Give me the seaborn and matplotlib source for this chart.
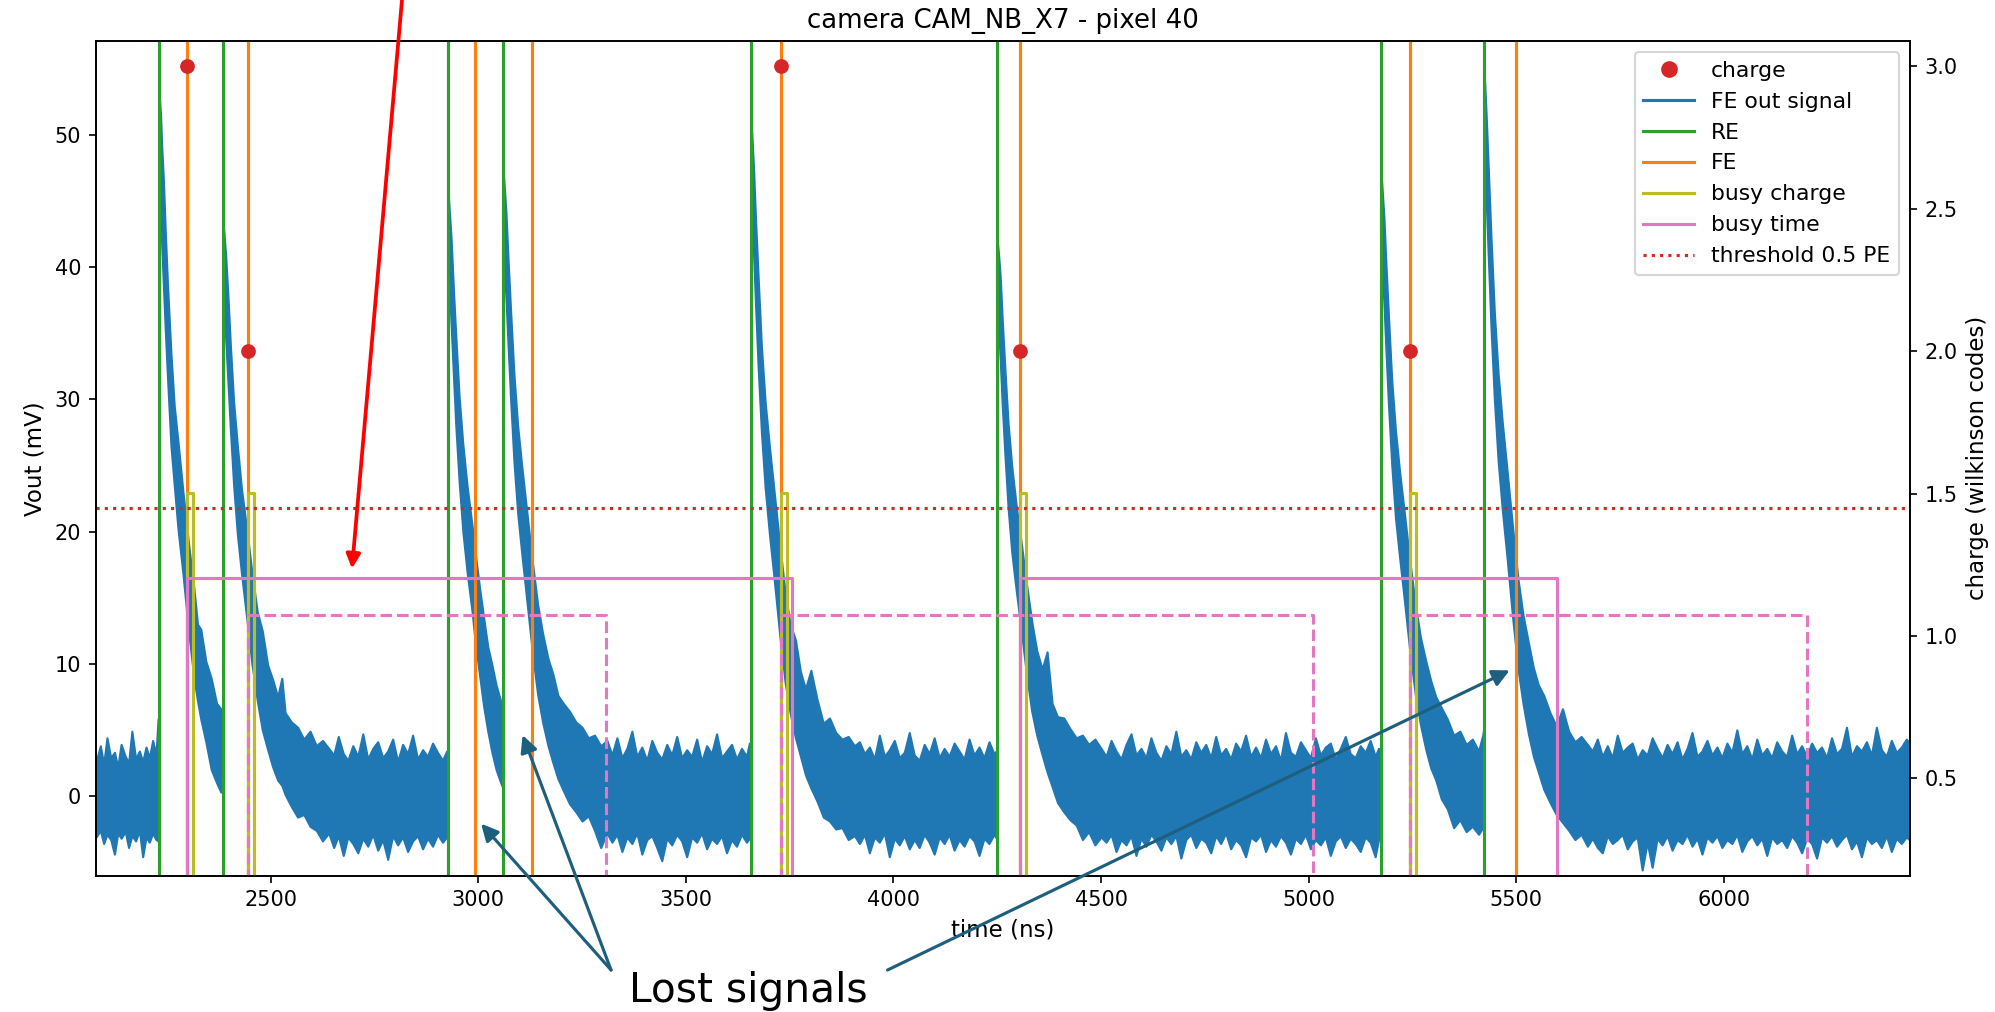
import matplotlib
matplotlib.use('Agg')
import matplotlib.pyplot as plt
from matplotlib.lines import Line2D
import seaborn as sns

# FE out signal, read as the upper / lower edge of the noisy trace (mV) at each time (ns)
sig_t = [
    # baseline before first pulse
    2080, 2090, 2098, 2106, 2115, 2124, 2132, 2140, 2150, 2158, 2166, 2175, 2184, 2192, 2200, 2208, 2216, 2224, 2229, 2232,
    # pulse 1
    2232, 2235, 2238, 2242, 2246, 2252, 2260, 2268, 2277, 2289, 2302, 2315, 2324, 2332, 2344, 2357, 2370, 2380, 2385,
    # pulse 2
    2385, 2388, 2392, 2397, 2403, 2411, 2420, 2430, 2442, 2455, 2468, 2480, 2493, 2505, 2517, 2527, 2535, 2550, 2565,
    2580, 2595, 2610, 2625,
    # baseline
    2640, 2652, 2663, 2675, 2686, 2698, 2710, 2722, 2734, 2746, 2758, 2770, 2782, 2794, 2806, 2818, 2830, 2842, 2854,
    2866, 2878, 2890, 2902, 2914, 2924, 2928,
    # pulse 3
    2928, 2931, 2935, 2940, 2946, 2954, 2963, 2973, 2985, 2993, 3003, 3013, 3023, 3033, 3043, 3053, 3058, 3060,
    # pulse 4
    3060, 3063, 3067, 3072, 3078, 3086, 3095, 3105, 3117, 3130, 3143, 3155, 3168, 3180, 3192, 3205, 3220, 3235, 3250,
    3265, 3280, 3295, 3310,
    # baseline
    3322, 3334, 3346, 3358, 3370, 3382, 3394, 3406, 3418, 3430, 3442, 3454, 3466, 3478, 3490, 3502, 3514, 3526, 3538,
    3550, 3562, 3574, 3586, 3598, 3610, 3622, 3634, 3646, 3653, 3656,
    # pulse 5
    3656, 3659, 3663, 3668, 3674, 3682, 3691, 3701, 3713, 3726, 3739, 3751, 3764, 3776, 3788, 3801, 3816, 3831, 3846,
    3861, 3876, 3891, 3906,
    # baseline
    3918, 3930, 3942, 3954, 3966, 3978, 3990, 4002, 4014, 4026, 4038, 4050, 4062, 4074, 4086, 4098, 4110, 4122, 4134,
    4146, 4158, 4170, 4182, 4194, 4206, 4218, 4230, 4242, 4250,
    # pulse 6
    4250, 4253, 4257, 4262, 4268, 4276, 4285, 4295, 4307, 4320, 4333, 4345, 4358, 4370, 4382, 4395, 4410, 4425, 4440,
    4455, 4470, 4485, 4500,
    # baseline
    4512, 4524, 4536, 4548, 4560, 4572, 4584, 4596, 4608, 4620, 4632, 4644, 4656, 4668, 4680, 4692, 4704, 4716, 4728,
    4740, 4752, 4764, 4776, 4788, 4800, 4812, 4824, 4836, 4848, 4860, 4872, 4884, 4896, 4908, 4920, 4932, 4944, 4956,
    4968, 4980, 4992, 5004, 5016, 5028, 5040, 5052, 5064, 5076, 5088, 5100, 5112, 5124, 5136, 5148, 5160, 5168, 5174,
    # pulse 7
    5174, 5177, 5181, 5186, 5192, 5200, 5209, 5219, 5231, 5244, 5257, 5269, 5282, 5294, 5306, 5319, 5334, 5349, 5364,
    5379, 5394, 5409, 5419, 5421,
    # pulse 8
    5421, 5424, 5428, 5433, 5439, 5447, 5456, 5466, 5478, 5491, 5504, 5516, 5529, 5541, 5553, 5566, 5581, 5596, 5611,
    5626, 5641, 5656, 5671,
    # baseline to the end
    5683, 5695, 5707, 5719, 5731, 5743, 5755, 5767, 5779, 5791, 5803, 5815, 5827, 5839, 5851, 5863, 5875, 5887, 5899,
    5911, 5923, 5935, 5947, 5959, 5971, 5983, 5995, 6007, 6019, 6031, 6043, 6055, 6067, 6079, 6091, 6103, 6115, 6127,
    6139, 6151, 6163, 6175, 6187, 6199, 6211, 6223, 6235, 6247, 6259, 6271, 6283, 6295, 6307, 6319, 6331, 6343, 6355,
    6367, 6379, 6391, 6403, 6415, 6427, 6439, 6450,
]
sig_hi = [
    2.6, 3.8, 2.4, 4.4, 2.9, 3.3, 2.2, 3.9, 3.0, 2.5, 4.9, 2.8, 3.4, 2.6, 3.7, 2.9, 4.2, 3.1, 5.8, 6.0,
    53.0, 51.5, 49.0, 46.5, 43.0, 38.5, 33.5, 29.5, 26.8, 23.0, 19.2, 15.8, 13.0, 12.6, 10.2, 8.9, 7.0, 6.6, 6.2,
    43.6, 42.5, 40.8, 38.0, 34.2, 29.8, 26.5, 23.2, 20.3, 16.9, 13.9, 12.5, 9.9, 8.8, 7.5, 8.9, 6.3, 5.6, 5.2,
    4.3, 4.9, 3.8, 4.2,
    3.6, 3.1, 4.5, 3.2, 2.7, 3.8, 3.0, 4.7, 2.8, 3.6, 4.1, 2.9, 3.4, 4.3, 2.6, 3.9, 3.2, 4.6, 2.8,
    3.5, 3.0, 4.0, 3.3, 2.7, 3.4, 3.0,
    45.4, 44.0, 42.0, 38.5, 34.8, 30.2, 26.6, 23.5, 20.5, 18.3, 15.8, 13.5, 11.3, 9.9, 8.4, 7.3, 6.9, 6.5,
    47.4, 46.0, 44.0, 40.5, 36.7, 31.9, 28.0, 24.9, 21.5, 17.8, 14.5, 12.3, 10.4, 9.2, 7.6, 7.0, 6.4, 5.6, 5.2,
    4.4, 4.6, 3.8, 4.2,
    3.1, 4.4, 2.9, 3.6, 4.9, 3.0, 3.7, 2.7, 4.2, 3.3, 2.8, 3.9, 3.1, 4.5, 2.9, 3.5, 3.0, 4.3, 2.6,
    3.8, 3.2, 4.7, 2.9, 3.4, 3.9, 2.8, 3.6, 3.0, 4.0, 3.3,
    51.6, 50.0, 47.5, 43.5, 39.3, 34.0, 29.8, 26.5, 22.9, 19.0, 15.4, 13.0, 11.8, 9.4, 8.1, 9.5, 7.3, 5.5, 5.9,
    4.8, 4.3, 4.5, 3.8,
    4.1, 3.2, 3.7, 2.8, 4.6, 3.0, 3.5, 4.2, 2.9, 3.3, 4.8, 3.1, 2.7, 3.9, 3.2, 4.4, 2.9, 3.6, 3.0,
    4.0, 3.4, 2.8, 4.3, 3.1, 3.7, 2.9, 4.1, 3.2, 3.5,
    42.0, 41.0, 39.3, 36.0, 32.5, 28.2, 24.9, 22.1, 19.3, 16.1, 13.2, 11.0, 9.6, 10.9, 7.0, 6.0, 5.9, 5.1, 4.4,
    4.6, 3.9, 4.3, 3.6,
    3.0, 4.2, 3.4, 2.8, 3.9, 4.7, 3.1, 3.6, 2.9, 4.4, 3.3, 2.7, 3.8, 3.2, 4.9, 3.0, 3.5, 2.8, 4.1,
    3.3, 3.9, 2.9, 4.5, 3.1, 3.6, 2.8, 4.0, 3.4, 4.6, 3.0, 3.7, 2.9, 4.3, 3.2, 3.8, 2.7, 4.8, 3.3,
    3.0, 4.1, 3.5, 2.9, 4.4, 3.1, 3.7, 4.0, 2.8, 3.6, 4.5, 3.2, 2.9, 3.8, 3.3, 4.2, 3.0, 3.6, 3.4,
    47.2, 45.8, 43.8, 40.2, 36.3, 31.4, 27.6, 24.5, 21.2, 17.6, 14.4, 12.0, 10.2, 8.7, 7.5, 6.7, 5.8, 4.6, 4.9,
    3.9, 4.3, 3.4, 4.6, 5.0,
    55.5, 53.8, 51.0, 47.0, 42.2, 36.6, 32.0, 28.3, 24.5, 20.3, 16.4, 13.7, 11.6, 9.7, 8.4, 7.6, 6.3, 5.3, 6.6,
    4.9, 4.1, 4.5, 3.9,
    3.4, 4.3, 3.0, 3.8, 2.9, 4.6, 3.3, 3.7, 4.0, 2.8, 3.5, 3.1, 4.4, 3.6, 2.9, 3.9, 3.2, 4.1, 2.8,
    3.6, 4.8, 3.0, 3.4, 4.2, 3.1, 3.7, 2.9, 4.0, 3.3, 5.0, 3.2, 3.8, 2.8, 4.3, 3.1, 3.6, 2.9, 4.1,
    3.4, 3.0, 4.6, 3.2, 3.8, 3.0, 4.0, 3.3, 3.7, 2.9, 4.4, 3.2, 3.6, 5.2, 3.0, 3.8, 3.4, 4.1, 3.1,
    5.2, 3.5, 3.0, 4.2, 3.3, 3.7, 4.3, 3.9,
]
sig_lo = [
    -3.1, -2.6, -3.6, -2.9, -3.3, -4.4, -2.8, -3.2, -2.7, -3.9, -3.0, -3.4, -2.6, -4.6, -3.1, -3.5, -2.8, -3.3, -3.4, -3.0,
    46.5, 44.0, 41.5, 38.5, 35.5, 31.5, 26.5, 23.5, 20.2, 16.8, 12.6, 9.0, 7.2, 5.8, 4.1, 2.0, 1.0, 0.3, 0.6,
    37.5, 36.5, 34.5, 31.5, 27.8, 23.5, 19.8, 16.8, 13.6, 10.0, 7.2, 5.0, 3.5, 2.2, 1.2, 0.8, 0.1, -0.8, -1.6,
    -1.4, -2.3, -2.6, -3.4,
    -2.8, -3.9, -3.0, -4.5, -3.1, -3.6, -4.3, -3.2, -3.8, -2.9, -4.1, -3.3, -4.8, -3.0, -3.7, -3.1, -4.2, -3.4, -3.0,
    -4.0, -3.2, -3.8, -2.9, -3.5, -3.1, -3.3,
    39.5, 38.0, 35.5, 32.0, 28.0, 23.8, 20.0, 17.0, 14.0, 11.6, 9.2, 6.8, 4.9, 3.3, 2.0, 1.1, 0.7, 1.0,
    41.5, 40.0, 37.5, 34.0, 30.0, 25.3, 21.4, 18.3, 14.8, 11.0, 7.7, 5.6, 3.8, 2.5, 1.3, 0.4, -0.6, -1.2, -1.9,
    -1.5, -2.6, -3.9, -2.8,
    -3.5, -2.9, -4.2, -3.1, -3.6, -2.8, -4.4, -3.3, -3.0, -3.9, -4.9, -3.2, -3.7, -2.9, -3.4, -4.6, -3.1, -3.5, -2.8,
    -4.0, -3.2, -3.6, -3.0, -4.3, -3.3, -3.8, -2.9, -3.5, -3.2, -3.0,
    45.5, 44.0, 41.0, 37.0, 32.5, 27.5, 23.3, 19.9, 16.3, 12.2, 8.6, 6.3, 4.4, 3.0, 1.6, 0.6, -0.4, -1.6, -1.9,
    -2.5, -2.4, -3.3, -3.0,
    -3.6, -2.9, -4.3, -3.1, -3.5, -2.8, -4.6, -3.2, -3.7, -3.0, -4.0, -3.3, -3.9, -2.9, -3.5, -4.4, -3.1, -3.6, -2.9,
    -4.1, -3.3, -3.8, -3.0, -3.4, -4.5, -3.2, -3.6, -2.9, -3.3,
    36.0, 35.5, 33.0, 29.5, 26.0, 21.8, 18.4, 15.7, 12.7, 9.3, 6.4, 4.6, 3.1, 1.8, 0.7, -0.5, -1.2, -1.8, -2.2,
    -3.3, -2.7, -3.7, -3.1,
    -3.5, -2.9, -4.2, -3.3, -3.7, -3.0, -4.5, -3.2, -3.8, -2.9, -3.4, -4.1, -3.1, -3.6, -3.0, -4.7, -3.3, -2.9, -3.9,
    -3.2, -3.5, -4.3, -3.0, -3.6, -2.8, -4.0, -3.3, -3.7, -4.6, -3.1, -3.4, -2.9, -4.2, -3.3, -3.8, -3.0, -3.5, -4.4,
    -3.2, -3.6, -2.9, -4.0, -3.3, -3.7, -3.1, -4.5, -3.4, -3.0, -3.9, -3.2, -3.6, -4.2, -3.1, -3.5, -4.6, -3.3, -3.0,
    41.3, 39.8, 37.3, 33.7, 29.6, 25.0, 21.0, 18.0, 14.6, 10.8, 7.6, 5.4, 3.5, 2.1, 1.2, -0.2, -1.0, -2.4, -1.8,
    -2.7, -2.3, -2.9, -2.4, -2.0,
    49.5, 48.0, 44.5, 40.3, 35.4, 30.0, 25.4, 21.7, 17.9, 13.5, 9.6, 7.0, 4.7, 3.0, 1.8, 0.5, -0.5, -1.4, -2.0,
    -2.6, -3.3, -2.9, -3.8,
    -3.2, -3.9, -4.3, -3.0, -3.6, -3.3, -2.9, -4.0, -3.4, -3.1, -5.6, -3.5, -5.4, -3.2, -3.7, -3.0, -4.1, -3.3, -3.6,
    -2.9, -3.8, -3.2, -4.4, -3.1, -3.5, -3.0, -3.9, -3.3, -3.6, -2.9, -4.2, -3.4, -3.0, -3.7, -3.2, -4.5, -3.1, -3.6,
    -3.3, -3.9, -3.0, -3.5, -4.3, -3.2, -3.6, -4.7, -3.1, -3.5, -3.0, -3.8, -3.3, -2.9, -4.0, -3.4, -4.6, -3.1, -3.6,
    -3.3, -3.9, -3.0, -4.2, -3.2, -3.6, -3.1, -3.4,
]

# discriminator edges (ns)
re_times = [2232, 2385, 2928, 3060, 3656, 4250, 5174, 5421]
fe_times = [2298, 2445, 2992, 3130, 3730, 4304, 5244, 5499]

# digital busy signals: start / stop times (ns) and high level (mV)
busy_charge_on = [2298, 2445, 3730, 4304, 5244]
busy_charge_off = [2312, 2459, 3744, 4318, 5258]
busy_charge_level = 22.9
busy_time_on = [2298, 4304]
busy_time_off = [3755, 5598]
busy_time_level = 16.45
busy_time2_on = [2445, 3730, 5244]
busy_time2_off = [3308, 5011, 6201]
busy_time2_level = 13.7

threshold_mv = 21.8

# charge (wilkinson codes) at the FE of accepted signals
charge_t = [2298, 2445, 3730, 4304, 5244]
charge_v = [3.0, 2.0, 3.0, 2.0, 2.0]

narrow = ['Liberation Sans Narrow', 'DejaVu Sans']


def step_xy(on, off, level, low=-20):
    xs = [sig_t[0]]
    ys = [low]
    for a, b in zip(on, off):
        xs += [a, a, b, b]
        ys += [low, level, level, low]
    xs.append(sig_t[-1])
    ys.append(low)
    return xs, ys


fig = plt.figure(figsize=(1995 / 150, 1012 / 150), dpi=150)
ax = fig.add_axes([0.048, 0.1347, 0.9094, 0.8248])

# FE out signal
ax.fill_between(sig_t, sig_lo, sig_hi, color='tab:blue', lw=1, zorder=2)

for t in re_times:
    ax.axvline(t, color='tab:green', lw=1.5, zorder=3)
for t in fe_times:
    ax.axvline(t, color='tab:orange', lw=1.5, zorder=3)

bx, by = step_xy(busy_charge_on, busy_charge_off, busy_charge_level)
sns.lineplot(x=bx, y=by, sort=False, estimator=None, color='tab:olive', lw=1.5, ax=ax, legend=False, zorder=4)
bx, by = step_xy(busy_time_on, busy_time_off, busy_time_level)
sns.lineplot(x=bx, y=by, sort=False, estimator=None, color='tab:pink', lw=1.5, ax=ax, legend=False, zorder=4)
bx, by = step_xy(busy_time2_on, busy_time2_off, busy_time2_level)
sns.lineplot(x=bx, y=by, sort=False, estimator=None, color='tab:pink', lw=1.5, ls='--', ax=ax, legend=False,
             zorder=4)

ax.axhline(threshold_mv, color='tab:red', ls=':', lw=1.5, zorder=4)

ax.set_xlim(2079, 6448)
ax.set_ylim(-6.03, 57.1)
ax.set_xlabel('time (ns)', fontsize=11, family=narrow)
ax.set_ylabel('Vout (mV)', fontsize=11, family=narrow)
ax.set_title('camera CAM_NB_X7 - pixel 40', fontsize=12.5)

ax2 = ax.twinx()
sns.scatterplot(x=charge_t, y=charge_v, ax=ax2, color='tab:red', s=50, linewidth=0, zorder=5, legend=False)
ax2.set_ylim(0.158, 3.089)
ax2.set_ylabel('charge (wilkinson codes)', fontsize=11, family=narrow)

handles = [
    Line2D([], [], ls='none', marker='o', ms=7, color='tab:red'),
    Line2D([], [], color='tab:blue', lw=1.5),
    Line2D([], [], color='tab:green', lw=1.5),
    Line2D([], [], color='tab:orange', lw=1.5),
    Line2D([], [], color='tab:olive', lw=1.5),
    Line2D([], [], color='tab:pink', lw=1.5),
    Line2D([], [], color='tab:red', ls=':', lw=1.5),
]
labels = ['charge', 'FE out signal', 'RE', 'FE', 'busy charge', 'busy time', 'threshold 0.5 PE']
ax2.legend(handles, labels, loc='upper right', fontsize=10.5, handlelength=2.3)

# slide annotations on top of the plot
red_arrow = dict(arrowstyle='-|>', color='#ff0000', lw=1.8, mutation_scale=14, shrinkA=0, shrinkB=0)
ax2.annotate('', xy=(2696, 17.2), xycoords=ax.transData, xytext=(0.2015, 1.0), textcoords='figure fraction',
             arrowprops=red_arrow, annotation_clip=False)

teal_arrow = dict(arrowstyle='-|>', color='#1d5f7c', lw=1.5, mutation_scale=17, shrinkA=0, shrinkB=0)
ax2.annotate('', xy=(3007, -2.1), xycoords=ax.transData, xytext=(0.3063, 0.0415), textcoords='figure fraction',
             arrowprops=teal_arrow, annotation_clip=False)
ax2.annotate('', xy=(3107, 4.6), xycoords=ax.transData, xytext=(0.3063, 0.0415), textcoords='figure fraction',
             arrowprops=teal_arrow, annotation_clip=False)
ax2.annotate('', xy=(5484, 9.5), xycoords=ax.transData, xytext=(0.4449, 0.0415), textcoords='figure fraction',
             arrowprops=teal_arrow, annotation_clip=False)
fig.text(0.3153, 0.0099, 'Lost signals', fontsize=19.5, ha='left', va='baseline', color='black')

fig.savefig('out.png', dpi=150)
